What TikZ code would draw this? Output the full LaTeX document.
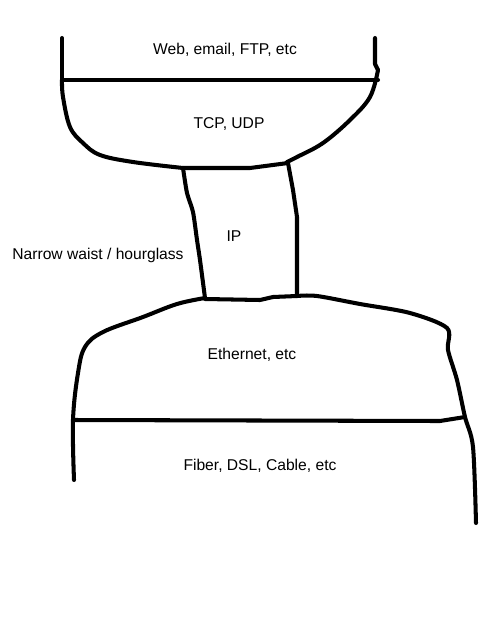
\documentclass[tikz,border=0pt]{standalone}
\usepackage{fontspec}
\setmainfont{Liberation Sans}
\usetikzlibrary{calc}
\tikzset{
  pen/.style={line width=2.3pt,line cap=round,line join=round},
  lbl/.style={font=\fontsize{8.9}{10}\selectfont,inner sep=0pt}
}
\begin{document}
\begin{tikzpicture}[x=0.02cm,y=-0.02cm]
      \useasboundingbox (0,0) rectangle (480,640);
      \begin{scope}[shift={(0,0)}]
        % top part: applications and transport
        \draw[pen](62,38)--(62,80);
        \draw[pen](375,38)--(375,64)--(378,70);
        \draw[pen](62,80)--(378,80);
        \draw[pen]plot[smooth,tension=.6]coordinates{
          (62,80)(63,97)(70,127)(83,143)(100,155)(133,162)(183,168)};
        \draw[pen]plot[smooth,tension=.6]coordinates{
          (378,70)(370,97)(350,120)(323,143)(297,157)(287,162)};
        \draw[pen](183,168)--(250,168)--(288,163);
        % the waist
        \draw[pen]plot[smooth,tension=.4]coordinates{
          (183,168)(187,193)(193,212)(197,240)(200,260)(205,298)};
        \draw[pen](288,163)--(293,190)--(297,217)--(297,296);
        \draw[pen](205,299)--(260,300)--(273,297)--(297,296);
        % bottom part: link and physical
        \draw[pen]plot[smooth,tension=.6]coordinates{
          (205,298)(177,304)(143,317)(103,332)(85,347)(78,373)(73,420)(74,480)};
        \draw[pen]plot[smooth,tension=.5]coordinates{
          (297,296)(317,296)(360,304)(410,313)(447,328)(448,350)(457,380)(465,417)(473,447)(476,523)};
        \draw[pen](73,420)--(440,421)--(465,417);
      \end{scope}
      \node[lbl](app) at (225,50){Web, email, FTP, etc};
      \node[lbl](tcp) at (229,124){TCP, UDP};
      \node[lbl](ip) at (234,236){IP};
      \node[lbl](waist) at (98,255){Narrow waist / hourglass};
      \node[lbl](eth) at (252,355){Ethernet, etc};
      \node[lbl](phy) at (260,466){Fiber, DSL, Cable, etc};
    \end{tikzpicture}
\end{document}
